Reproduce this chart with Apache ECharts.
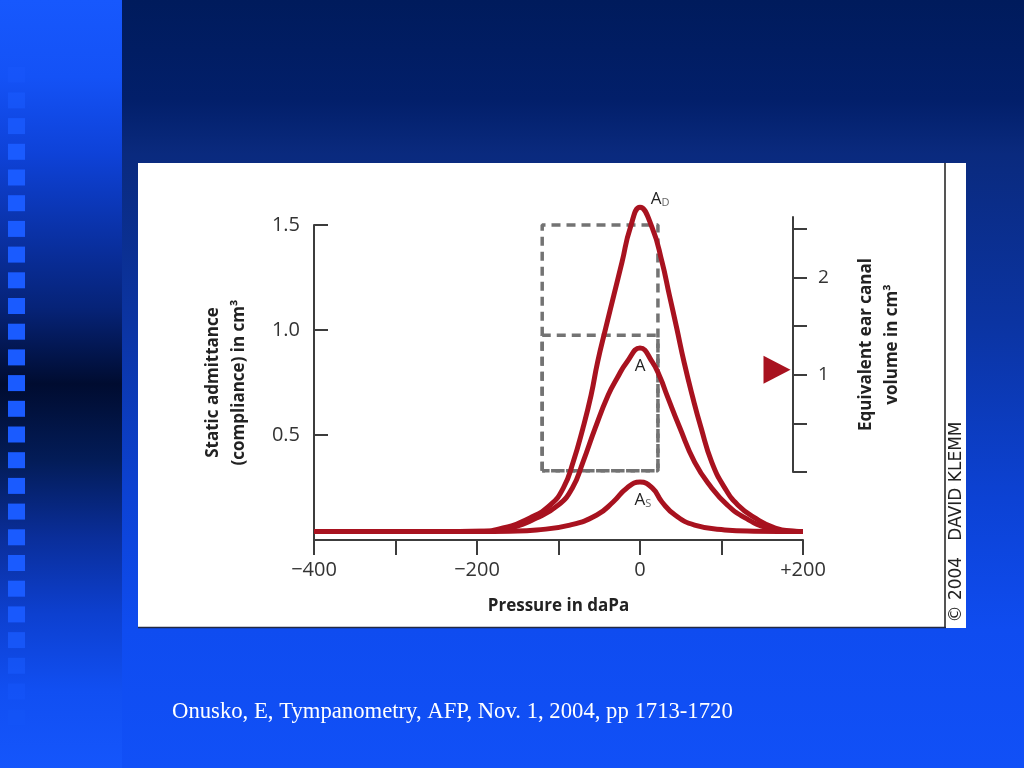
<!DOCTYPE html>
<html><head><meta charset="utf-8">
<script src="https://cdn.jsdelivr.net/npm/echarts@6/dist/echarts.min.js"></script>
<style>html,body{margin:0;padding:0;background:#0b2a80;overflow:hidden}#c{width:1024px;height:768px}</style>
</head><body><div id="c"></div><script>
// ---- tick values / labels ----
const pressureTicks = [-400, -300, -200, -100, 0, 100, 200];
const pressureLabels = [-400, -200, 0, 200];
const admittanceTicks = [0.5, 1.0, 1.5];
const volumeTicks = [0, 0.5, 1, 1.5, 2, 2.5];
const volumeLabels = [1, 2];
const earCanalVolume = 1.05;

// ---- curve A_D ----
const pressureAD = [-400, -250, -196, -168, -135, -110, -94, -82, -70, -60, -52, -42, -32, -22, -12, 0, 15, 27, 36, 45, 54, 64, 75, 88, 104, 120, 141, 166, 190, 200];
const admittanceAD = [0.04, 0.04, 0.042, 0.057, 0.105, 0.167, 0.248, 0.371, 0.533, 0.69, 0.848, 1.01, 1.167, 1.324, 1.486, 1.585, 1.486, 1.324, 1.167, 1.01, 0.848, 0.69, 0.533, 0.371, 0.248, 0.167, 0.105, 0.057, 0.042, 0.04];
// ---- curve A ----
const pressureA = [-400, -250, -190, -160, -127, -100, -83, -70, -55, -39, -28, -16, 0, 15, 25, 33, 49, 67, 88, 107, 129, 157, 185, 200];
const admittanceA = [0.04, 0.04, 0.042, 0.057, 0.105, 0.167, 0.248, 0.371, 0.533, 0.69, 0.771, 0.848, 0.914, 0.848, 0.771, 0.69, 0.533, 0.371, 0.248, 0.167, 0.105, 0.057, 0.042, 0.04];
// ---- curve A_S ----
const pressureAS = [-400, -200, -160, -127, -86, -53, -33, -16, 0, 15, 27, 43, 67, 104, 140, 200];
const admittanceAS = [0.04, 0.04, 0.042, 0.048, 0.071, 0.119, 0.181, 0.248, 0.276, 0.248, 0.181, 0.119, 0.071, 0.048, 0.042, 0.04];

// ---- normal range boxes ----
const normalPressure = [-120, 22];
const normalAdmittanceOuter = [0.33, 1.5];
const normalAdmittanceInner = [0.33, 0.975];

const RED = '#a8121f';
const FONT = '"Open Sans", "Noto Sans", sans-serif';
const AX = '#3c3c3c';

function pairs(xs, ys) { return xs.map((x, i) => [x, ys[i]]); }
function box(px, py) {
  return [[px[0], py[0]], [px[0], py[1]], [px[1], py[1]], [px[1], py[0]], [px[0], py[0]]];
}
function signed(v) { return v < 0 ? '\u2212' + Math.abs(v) : (v > 0 ? '+' + v : '0'); }
function peakOf(xs, ys) {
  let k = 0;
  ys.forEach((y, i) => { if (y > ys[k]) k = i; });
  return [xs[k], ys[k]];
}

const labelRich = {
  a: { fontFamily: FONT, fontSize: 17, color: '#222' },
  s: { fontFamily: FONT, fontSize: 11, color: '#666', padding: [7, 0, 0, 0] }
};

function curve(xs, ys) {
  return {
    type: 'line', xAxisIndex: 0, yAxisIndex: 0,
    data: pairs(xs, ys), smooth: 0.5, symbol: 'none', showSymbol: false, clip: false,
    lineStyle: { color: RED, width: 5 }, z: 5, silent: true
  };
}
function dashed(data) {
  return {
    type: 'line', xAxisIndex: 0, yAxisIndex: 0, data: data, symbol: 'none', clip: false,
    lineStyle: { color: '#737373', width: 3.5, type: [9, 6] }, z: 3, silent: true
  };
}
function peakLabel(pt, text, offset) {
  return { value: pt, label: { show: true, position: 'inside', offset: offset, formatter: text, rich: labelRich, opacity: 1 } };
}

const bgStops = [
  { offset: 0, color: '#001b5c' }, { offset: 0.13, color: '#021f6a' },
  { offset: 0.2, color: '#0a2a7e' }, { offset: 0.42, color: '#0b34a2' },
  { offset: 0.65, color: '#0c42d4' }, { offset: 0.82, color: '#0f4cf0' },
  { offset: 1, color: '#1150f7' }
];
const stripStops = [
  { offset: 0, color: '#1758fd' }, { offset: 0.1, color: '#1452f6' },
  { offset: 0.2, color: '#0e42d8' }, { offset: 0.3, color: '#0a32a8' },
  { offset: 0.4, color: '#062378' }, { offset: 0.5, color: '#000c30' },
  { offset: 0.6, color: '#031c58' }, { offset: 0.7, color: '#0a2e9a' },
  { offset: 0.8, color: '#0d40d0' }, { offset: 0.9, color: '#114ff2' },
  { offset: 1, color: '#1556fc' }
];
const graphics = [
  { type: 'rect', z: -100, silent: true, shape: { x: 0, y: 0, width: 1024, height: 768 },
    style: { fill: { type: 'linear', x: 0, y: 0, x2: 0, y2: 1, colorStops: bgStops } } },
  { type: 'rect', z: -99, silent: true, shape: { x: 0, y: 0, width: 122, height: 768 },
    style: { fill: { type: 'linear', x: 0, y: 0, x2: 0, y2: 1, colorStops: stripStops } } }
];
for (let k = 0; k < 27; k++) {
  const sy = 41 + k * 25.7;
  const op = Math.max(0.05, Math.min(1, (sy - 30) / 110, (730 - sy) / 130));
  graphics.push({ type: 'rect', z: -98, silent: true, shape: { x: 8, y: sy, width: 17, height: 16 }, style: { fill: '#1a5bff', opacity: op } });
}
graphics.push(
  { type: 'rect', z: -90, silent: true, shape: { x: 138, y: 163, width: 828, height: 465 }, style: { fill: '#ffffff' } },
  { type: 'line', z: -89, silent: true, shape: { x1: 945, y1: 163, x2: 945, y2: 628 }, style: { stroke: '#555', lineWidth: 2 } },
  { type: 'line', z: -89, silent: true, shape: { x1: 138, y1: 627.5, x2: 946, y2: 627.5 }, style: { stroke: '#222a44', lineWidth: 1.5 } },
  { type: 'text', z: 10, silent: true, x: 957, y: 522, rotation: Math.PI / 2,
    style: { text: '\u00a9 2004   DAVID KLEMM', fontFamily: '"DejaVu Sans", sans-serif', fontSize: 17, fill: '#222', align: 'center', verticalAlign: 'middle' } },
  { type: 'text', z: 10, silent: true, x: 172, y: 712,
    style: { text: 'Onusko, E, Tympanometry, AFP, Nov. 1, 2004, pp 1713-1720', fontFamily: '"Liberation Serif", "Times New Roman", serif', fontSize: 22.7, fill: '#ffffff', align: 'left', verticalAlign: 'middle' } }
);

const chart = echarts.init(document.getElementById('c'), null, { renderer: 'canvas' });
chart.setOption({
  backgroundColor: 'transparent',
  animation: false,
  graphic: graphics,
  grid: [
    { left: 314, top: 225, width: 489, height: 315 },
    { left: 700, top: 217, width: 93, height: 255 }
  ],
  xAxis: [
    { type: 'value', gridIndex: 0, min: -400, max: 200,
      splitLine: { show: false },
      axisLine: { show: true, onZero: false, lineStyle: { color: AX, width: 2 } },
      axisTick: { show: true, customValues: pressureTicks, length: 15, inside: false, lineStyle: { color: AX, width: 2 } },
      axisLabel: { show: true, customValues: pressureLabels, formatter: signed, margin: 20, fontSize: 20, color: '#333', fontFamily: FONT },
      name: 'Pressure in daPa', nameLocation: 'middle', nameGap: 58,
      nameTextStyle: { fontFamily: FONT, fontWeight: 'bold', fontSize: 17, color: '#222' } },
    { type: 'value', gridIndex: 1, min: 0, max: 1, show: false }
  ],
  yAxis: [
    { type: 'value', gridIndex: 0, min: 0, max: 1.5,
      splitLine: { show: false },
      axisLine: { show: true, onZero: false, lineStyle: { color: AX, width: 2 } },
      axisTick: { show: true, customValues: admittanceTicks, length: 14, inside: true, lineStyle: { color: AX, width: 2 } },
      axisLabel: { show: true, customValues: admittanceTicks, formatter: v => v.toFixed(1), margin: 14, fontSize: 20, color: '#333', fontFamily: FONT },
      name: 'Static admittance\n(compliance) in cm\u00b3', nameLocation: 'middle', nameRotate: 90, nameGap: 62,
      nameTextStyle: { fontFamily: FONT, fontWeight: 'bold', fontSize: 17, color: '#222', lineHeight: 26, align: 'center' } },
    { type: 'value', gridIndex: 1, position: 'right', min: 0, max: 2.62,
      splitLine: { show: false },
      axisLine: { show: true, onZero: false, lineStyle: { color: AX, width: 2 } },
      axisTick: { show: true, customValues: volumeTicks, length: 14, inside: false, lineStyle: { color: AX, width: 2 } },
      axisLabel: { show: true, customValues: volumeLabels, formatter: v => String(v), margin: 25, fontSize: 19, color: '#333', fontFamily: FONT },
      name: 'Equivalent ear canal\nvolume in cm\u00b3', nameLocation: 'middle', nameRotate: 90, nameGap: 60,
      nameTextStyle: { fontFamily: FONT, fontWeight: 'bold', fontSize: 17, color: '#222', lineHeight: 26, align: 'center' } }
  ],
  series: [
    dashed(box(normalPressure, normalAdmittanceOuter)),
    dashed(box(normalPressure, normalAdmittanceInner)),
    curve(pressureAD, admittanceAD),
    curve(pressureA, admittanceA),
    curve(pressureAS, admittanceAS),
    { type: 'scatter', xAxisIndex: 0, yAxisIndex: 0, symbol: 'circle', symbolSize: 1, clip: false, silent: true, z: 6,
      itemStyle: { color: 'rgba(0,0,0,0)', opacity: 1 },
      data: [
        peakLabel(peakOf(pressureAD, admittanceAD), '{a|A}{s|D}', [20, -8]),
        peakLabel(peakOf(pressureA, admittanceA), '{a|A}', [0, 18]),
        peakLabel(peakOf(pressureAS, admittanceAS), '{a|A}{s|S}', [3, 18])
      ] },
    { type: 'scatter', xAxisIndex: 1, yAxisIndex: 1, data: [[1, earCanalVolume]],
      symbol: 'triangle', symbolRotate: -90, symbolSize: [28, 27], symbolOffset: [-16, 0],
      itemStyle: { color: RED, opacity: 1 }, clip: false, silent: true, z: 5 }
  ]
});
</script></body></html>
